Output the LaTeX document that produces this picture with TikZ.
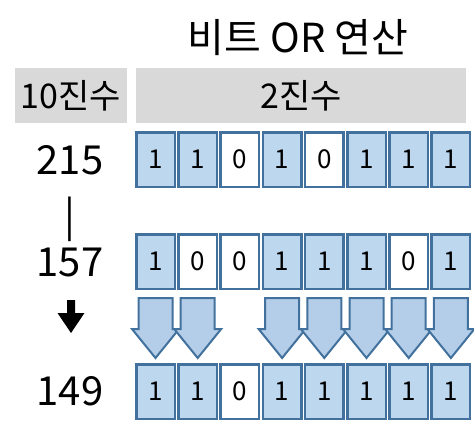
\documentclass[tikz,border=0pt]{standalone}
\usepackage{fontspec}
\setmainfont{Noto Sans CJK KR}
\usepackage{xcolor}
\usepackage{tikz}
\usetikzlibrary{positioning, calc}

\definecolor{bitfill}{HTML}{BDD7EE}
\definecolor{bitline}{HTML}{41719C}
\definecolor{arrowfill}{HTML}{B4CEE9}
\definecolor{headgray}{HTML}{D9D9D9}

\begin{document}
\begin{tikzpicture}[
    x=1pt, y=-1pt,
    bit1/.style={rectangle, draw=bitline, fill=bitfill, line width=2.5pt, minimum width=38.5pt, minimum height=54.5pt, inner sep=0pt, font=\fontsize{26}{26}\selectfont},
    bit0/.style={bit1, fill=white},
    header/.style={rectangle, fill=headgray, minimum height=55pt, inner sep=0pt, font=\fontsize{34}{34}\selectfont},
    dec/.style={inner sep=0pt, font=\fontsize{40}{40}\selectfont},
    orarrow/.style={draw=bitline, fill=arrowfill, line width=2pt, line join=miter}
]
\useasboundingbox (0,0) rectangle (474,439);

\node[inner sep=0pt, font=\fontsize{40}{40}\selectfont] (title) at (298,38) {비트 OR 연산};
\node[header, minimum width=112pt] (dechead) at (71,95.5) {10진수};
\node[header, minimum width=330pt] (binhead) at (301,95.5) {2진수};

% decimal column
\node[dec] (n215) at (70,160) {215};
\node[dec] (bar) at (70,219) {|};
\node[dec] (n157) at (70,262) {157};
\node[dec] (n149) at (70,391) {149};
\fill[shift={(71,300)}] (-4,0) -- (4,0) -- (4,13) -- (13.5,13) -- (0,33) -- (-13.5,13) -- (-4,13) -- cycle;

% binary rows
\foreach \b [count=\i from 0] in {1,1,0,1,0,1,1,1}
  \node[bit\b] (a\i) at (155.5+42.2*\i,159.5) {\b};
\foreach \b [count=\i from 0] in {1,0,0,1,1,1,0,1}
  \node[bit\b] (b\i) at (155.5+42.2*\i,261.5) {\b};
\foreach \b [count=\i from 0] in {1,1,0,1,1,1,1,1}
  \node[bit\b] (c\i) at (155.5+42.2*\i,391.5) {\b};

% OR arrows
\foreach \i in {0,1,3,4,5,6,7}
  \draw[orarrow, shift={(b\i.south)}] (-17,8) -- (17,8) -- (17,39) -- (23.5,39) -- (0,68) -- (-23.5,39) -- (-17,39) -- cycle;
\end{tikzpicture}
\end{document}
